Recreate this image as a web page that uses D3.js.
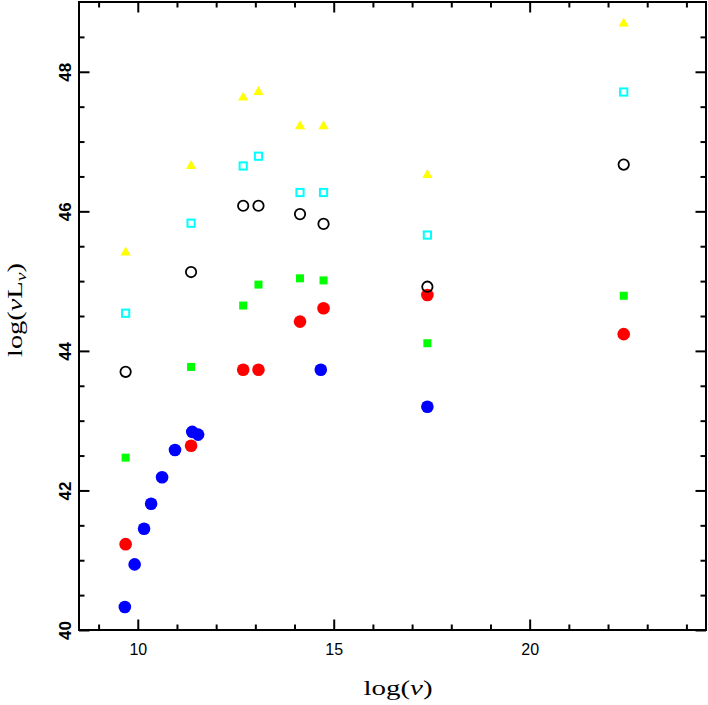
<!DOCTYPE html>
<html>
<head>
<meta charset="utf-8">
<script src="https://cdn.jsdelivr.net/npm/d3@7"></script>
<style>
  html, body { margin: 0; padding: 0; background: #fff; }
  svg { display: block; }
</style>
</head>
<body>
<svg id="chart" width="708" height="705"></svg>
<script>
// ---- data ----
const colX = [9.69, 11.36, 12.69, 13.08, 14.14, 14.74, 17.39, 22.40];
const yellowTri = [45.41, 46.65, 47.63, 47.71, 47.22, 47.22, 46.52, 48.69];
const cyanSq    = [44.54, 45.83, 46.65, 46.79, 46.27, 46.27, 45.66, 47.71];
const blackCirc = [43.70, 45.13, 46.08, 46.08, 45.96, 45.82, 44.92, 46.67];
const greenSq   = [42.47, 43.77, 44.65, 44.95, 45.04, 45.01, 44.11, 44.79];
const redCirc   = [41.23, 42.64, 43.73, 43.73, 44.42, 44.61, 44.80, 44.24];
const blueX = [9.67, 9.92, 10.16, 10.34, 10.62, 10.95, 11.39, 11.54, 14.67, 17.39];
const blueY = [40.33, 40.94, 41.45, 41.81, 42.19, 42.58, 42.84, 42.80, 43.73, 43.20];
const xMajor = [10, 15, 20];
const xMinor = [9, 11, 12, 13, 14, 16, 17, 18, 19, 21, 22, 23, 24];
const yMajor = [40, 42, 44, 46, 48];
const yMinor = [40.5, 41, 41.5, 42.5, 43, 43.5, 44.5, 45, 45.5, 46.5, 47, 47.5, 48.5];

// ---- layout ----
const L = 79, R = 706, T = 2, B = 630;
const svg = d3.select("#chart");
const x = d3.scaleLinear().domain([8.5, 24.5]).range([L, R]);
const y = d3.scaleLinear().domain([40, 49]).range([B, T]);

const zip = (xs, ys) => xs.map((v, i) => [v, ys[i]]);

// ---- axes (inward ticks on all four sides) ----
function styleAxis(g) {
  g.select(".domain").remove();
  g.selectAll(".tick line").attr("stroke", "#000").attr("stroke-width", 2);
}
const majorLen = 10.5, minorLen = 5.5;

svg.append("g").attr("transform", `translate(0,${B})`)
  .call(d3.axisBottom(x).tickValues(xMajor).tickSize(-majorLen).tickPadding(14).tickFormat(d3.format("d")))
  .call(styleAxis)
  .call(g => g.selectAll("text").attr("font-family", "Liberation Sans, Arial, sans-serif").attr("font-size", 16).attr("fill", "#000"));
svg.append("g").attr("transform", `translate(0,${B})`)
  .call(d3.axisBottom(x).tickValues(xMinor).tickSize(-minorLen).tickFormat(""))
  .call(styleAxis);
svg.append("g").attr("transform", `translate(0,${T})`)
  .call(d3.axisTop(x).tickValues(xMajor).tickSize(-majorLen).tickFormat(""))
  .call(styleAxis);
svg.append("g").attr("transform", `translate(0,${T})`)
  .call(d3.axisTop(x).tickValues(xMinor).tickSize(-minorLen).tickFormat(""))
  .call(styleAxis);

svg.append("g").attr("transform", `translate(${L},0)`)
  .call(d3.axisLeft(y).tickValues(yMajor).tickSize(-majorLen).tickFormat(d3.format("d")))
  .call(styleAxis)
  .call(g => g.selectAll("text")
    .attr("x", null).attr("dy", null)
    .attr("text-anchor", "middle")
    .attr("transform", "translate(-8,0) rotate(-90)")
    .attr("font-family", "Liberation Sans, Arial, sans-serif")
    .attr("font-weight", "bold")
    .attr("font-size", 17).attr("fill", "#000"));
svg.append("g").attr("transform", `translate(${L},0)`)
  .call(d3.axisLeft(y).tickValues(yMinor).tickSize(-minorLen).tickFormat(""))
  .call(styleAxis);
svg.append("g").attr("transform", `translate(${R},0)`)
  .call(d3.axisRight(y).tickValues(yMajor).tickSize(-majorLen).tickFormat(""))
  .call(styleAxis);
svg.append("g").attr("transform", `translate(${R},0)`)
  .call(d3.axisRight(y).tickValues(yMinor).tickSize(-minorLen).tickFormat(""))
  .call(styleAxis);

// frame
svg.append("rect").attr("x", L).attr("y", T).attr("width", R - L).attr("height", B - T)
  .attr("fill", "none").attr("stroke", "#000").attr("stroke-width", 2);

// ---- marks ----
const marks = svg.append("g");
marks.selectAll(".blue").data(zip(blueX, blueY)).join("circle")
  .attr("cx", d => x(d[0])).attr("cy", d => y(d[1])).attr("r", 6.3).attr("fill", "#0000ff");
marks.selectAll(".red").data(zip(colX, redCirc)).join("circle")
  .attr("cx", d => x(d[0])).attr("cy", d => y(d[1])).attr("r", 6.3).attr("fill", "#ff0000");
marks.selectAll(".green").data(zip(colX, greenSq)).join("rect")
  .attr("x", d => x(d[0]) - 4).attr("y", d => y(d[1]) - 4).attr("width", 8).attr("height", 8).attr("fill", "#00ff00");
marks.selectAll(".black").data(zip(colX, blackCirc)).join("circle")
  .attr("cx", d => x(d[0])).attr("cy", d => y(d[1])).attr("r", 5.2)
  .attr("fill", "none").attr("stroke", "#000").attr("stroke-width", 1.8);
marks.selectAll(".cyan").data(zip(colX, cyanSq)).join("rect")
  .attr("x", d => x(d[0]) - 3.6).attr("y", d => y(d[1]) - 3.6).attr("width", 7.2).attr("height", 7.2)
  .attr("fill", "none").attr("stroke", "#00ffff").attr("stroke-width", 2);
const tri = d3.symbol().type(d3.symbolTriangle).size(46);
marks.selectAll(".yellow").data(zip(colX, yellowTri)).join("path")
  .attr("transform", d => `translate(${x(d[0])},${y(d[1])})`).attr("d", tri).attr("fill", "#ffff00");

// ---- axis titles ----
const serif = "'Liberation Serif', 'DejaVu Serif', serif";
const xt = svg.append("text").attr("transform", "translate(398,695) scale(1.45,1)").attr("text-anchor", "middle")
  .attr("font-family", serif).attr("font-size", 20).attr("fill", "#000");
xt.append("tspan").text("log(");
xt.append("tspan").attr("font-style", "italic").text("ν");
xt.append("tspan").text(")");

const yt = svg.append("text").attr("transform", "translate(22,310) rotate(-90) scale(1.42,1)").attr("text-anchor", "middle")
  .attr("font-family", serif).attr("font-size", 20).attr("fill", "#000");
yt.append("tspan").text("log(");
yt.append("tspan").attr("font-style", "italic").text("ν");
yt.append("tspan").text("L");
yt.append("tspan").attr("font-style", "italic").attr("font-size", 14).attr("dy", 4).text("ν");
yt.append("tspan").attr("dy", -4).text(")");
</script>
</body>
</html>
